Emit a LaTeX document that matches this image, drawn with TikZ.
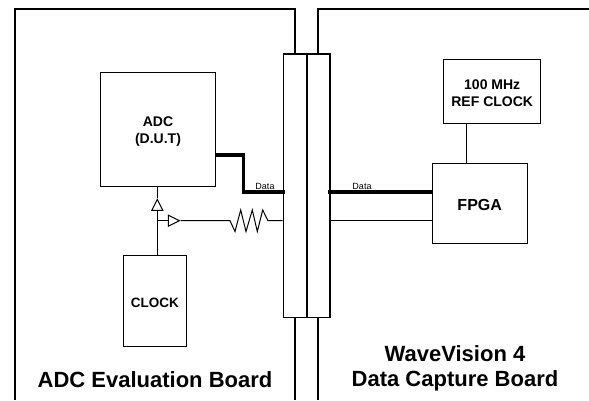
\documentclass[tikz,border=0pt]{standalone}
\usepackage{fontspec}
\setmainfont{Liberation Sans}
\usetikzlibrary{shapes.geometric}
\tikzset{
  x=1pt,y=-1pt,
  boardline/.style={line width=2.4pt,line join=miter},
  thin wire/.style={line width=1pt},
  bus/.style={line width=3.6pt,line join=miter},
  blockbox/.style={draw,line width=1pt,inner sep=0pt},
  blocktext/.style={inner sep=0pt,font=\bfseries\fontsize{14}{17}\selectfont,align=center},
  slotbox/.style={draw,line width=1.8pt,inner sep=0pt},
  buffer/.style={draw,isosceles triangle,isosceles triangle stretches,line width=1pt,inner sep=0pt,minimum width=11pt,minimum height=11pt},
  datalabel/.style={font=\fontsize{9}{10}\selectfont,inner sep=0pt},
  boardtitle/.style={font=\bfseries\fontsize{22}{25.5}\selectfont,align=center,inner sep=0pt}
}
\begin{document}
\begin{tikzpicture}
\useasboundingbox (0,0) rectangle (589,400);
% boards
\coordinate (lbBL) at (15,400);
\coordinate (lbTL) at (15,9);
\coordinate (lbTR) at (295,9);
\coordinate (lbCT) at (295,54);
\coordinate (lbCB) at (295,318);
\coordinate (lbBR) at (295,400);
\coordinate (rbTE) at (589,9);
\coordinate (rbTL) at (318,9);
\coordinate (rbCT) at (318,54);
\coordinate (rbCB) at (318,318);
\coordinate (rbBL) at (318,400);
\draw[boardline] (lbBL) -- (lbTL) -- (lbTR) -- (lbCT);
\draw[boardline] (lbCB) -- (lbBR);
\draw[boardline] (rbTE) -- (rbTL) -- (rbCT);
\draw[boardline] (rbCB) -- (rbBL);
% connector
\node[slotbox,minimum width=23.2pt,minimum height=263.5pt] (connL) at (295,185.75) {};
\node[slotbox,minimum width=23.2pt,minimum height=263.5pt] (connR) at (318.2,185.75) {};
% blocks
\node[blockbox,minimum width=115pt,minimum height=114pt,label={[blocktext,yshift=-3pt]center:{ADC\\(D.U.T)}}] (adc) at (158,129) {};
\node[blockbox,minimum width=63pt,minimum height=91pt,label={[blocktext,yshift=-2.5pt,font=\bfseries\fontsize{13.5}{16}\selectfont]center:CLOCK}] (clock) at (154.8,300.5) {};
\node[blockbox,minimum width=94.7pt,minimum height=80pt,label={[blocktext,yshift=-2pt,font=\bfseries\fontsize{16}{19}\selectfont]center:FPGA}] (fpga) at (479.7,203.3) {};
\node[blockbox,minimum width=97pt,minimum height=63.5pt,label={[blocktext,yshift=-1.5pt]center:{100 MHz\\REF CLOCK}}] (ref) at (492.2,91.5) {};
% clock path
\node[buffer,shape border rotate=90,anchor=apex] (bufA) at (157.3,198) {};
\node[buffer,anchor=apex] (bufB) at (180.7,220.7) {};
\coordinate (tee) at (157.3,220.7);
\draw[thin wire] (bufA.apex |- adc.south) -- (bufA.apex);
\draw[thin wire] (bufA.lower side) -- (bufA.lower side |- clock.north);
\draw[thin wire] (tee) -- (bufB.lower side);
\coordinate (rIn) at (230,220.7);
\coordinate (rOut) at (268,220.7);
\draw[thin wire] (bufB.apex) -- (rIn) -- (235,231.5) -- (240.7,210) -- (246,231.5) -- (252.3,210) -- (257.3,231.5) -- (262.7,210) -- (rOut) -- (rOut -| connL.west);
% data
\coordinate (adcOut) at (215.5,155);
\coordinate (busBend) at (243.3,155);
\draw[bus] (adcOut) -- (busBend) -- (busBend |- 0,192) -- (285,192);
\draw[bus] (327.5,192) -- (fpga.west |- 0,192);
\draw[thin wire] (connR.east |- 0,220) -- (fpga.west |- 0,220);
\draw[thin wire] (466.3,123) -- (466.3,163.3);
\node[datalabel] (dataL) at (265,186) {Data};
\node[datalabel] (dataR) at (362,186) {Data};
% titles
\node[boardtitle] (leftT) at (155,380) {ADC Evaluation Board};
\node[boardtitle] (rightT) at (455,368.5) {WaveVision 4\\Data Capture Board};
\end{tikzpicture}
\end{document}
